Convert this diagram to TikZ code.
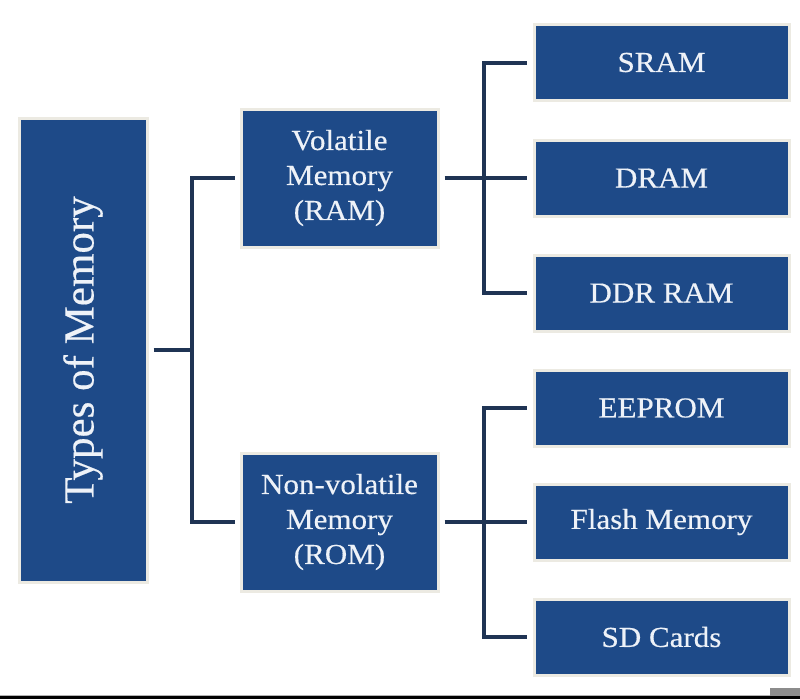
\documentclass[tikz,border=0pt]{standalone}
\usepackage{fontspec}
\setmainfont{Liberation Serif}
\newfontfamily\boxfont{Liberation Serif}[FakeStretch=1.07,FakeBold=0.4]
\newfontfamily\mainfont{Liberation Serif}[FakeBold=0.4]
\definecolor{boxblue}{HTML}{1E4A88}
\definecolor{boxedge}{HTML}{ECEAE2}
\definecolor{connc}{HTML}{1F3454}
\definecolor{txtc}{HTML}{EEF2F8}
\tikzset{
  membox/.style={fill=boxblue, draw=boxedge, line width=3pt, text=txtc, align=center, inner sep=0pt,
    font=\boxfont\fontsize{29}{35}\selectfont},
  leafbox/.style={membox, minimum width=255pt, minimum height=76pt},
  midbox/.style={membox, minimum width=197pt, minimum height=138pt},
  conn/.style={draw=connc, line width=4pt, line cap=butt, line join=miter},
}
\begin{document}
\begin{tikzpicture}[x=1pt,y=-1pt]
\useasboundingbox (0,0) rectangle (800,699);
\fill[white] (0,0) rectangle (800,699);
% nodes
\node[membox, rotate=90, minimum width=464pt, minimum height=128pt, font=\mainfont\fontsize{43}{50}\selectfont] (main) at (83,350) {Types of Memory};
\node[midbox] (vol) at (339.5,178) {Volatile\\Memory\\(RAM)};
\node[midbox] (nvol) at (339.5,522) {Non-volatile\\Memory\\(ROM)};
\node[leafbox] (sram) at (661.5,62.5) {SRAM};
\node[leafbox] (dram) at (661.5,178) {DRAM};
\node[leafbox] (ddr) at (661.5,293) {DDR RAM};
\node[leafbox] (eeprom) at (661.5,408) {EEPROM};
\node[leafbox] (flash) at (661.5,522) {Flash Memory};
\node[leafbox] (sd) at (661.5,637) {SD Cards};
% junctions
\coordinate (j0) at (192,350);
\coordinate (j1) at (484,178);
\coordinate (j2) at (484,522);
% connectors
\draw[conn, shorten <=5pt] (main.south) -- (j0);
\draw[conn, shorten >=5pt] (j0) |- (vol.west);
\draw[conn, shorten >=5pt] (j0) |- (nvol.west);
\draw[conn, shorten <=5pt] (vol.east) -- (j1);
\draw[conn, shorten >=6pt] (j1) |- (sram.west);
\draw[conn, shorten >=6pt] (j1) -- (dram.west);
\draw[conn, shorten >=6pt] (j1) |- (ddr.west);
\draw[conn, shorten <=5pt] (nvol.east) -- (j2);
\draw[conn, shorten >=6pt] (j2) |- (eeprom.west);
\draw[conn, shorten >=6pt] (j2) -- (flash.west);
\draw[conn, shorten >=6pt] (j2) |- (sd.west);
% bottom rule
\fill[black!30] (0,694.5) rectangle (800,696);
\fill[black] (0,696) rectangle (800,699);
\fill[black!45] (770,688) rectangle (800,696);
\end{tikzpicture}
\end{document}
